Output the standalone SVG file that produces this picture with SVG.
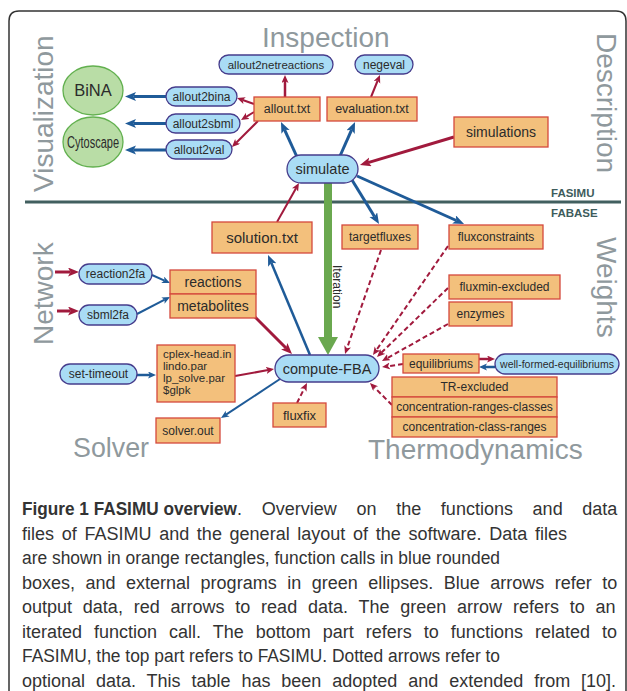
<svg xmlns="http://www.w3.org/2000/svg" width="627" height="691" viewBox="0 0 627 691">
<style>
.fn{fill:#a9dcf5;stroke:#463c8c;stroke-width:1.3}
.df{fill:#f3c07c;stroke:#d4493c;stroke-width:1.3}
.ext{fill:#b9dda6;stroke:#62b04f;stroke-width:1.3}
.t{font-family:"Liberation Sans",Arial,sans-serif;fill:#2b2b2b;text-anchor:middle}
.sec{font-family:"Liberation Sans",Arial,sans-serif;font-size:28px;fill:#8f999d}
.lay{font-family:"Liberation Sans",Arial,sans-serif;font-size:11.5px;font-weight:bold;fill:#3e5c5c}
.cap{font-family:"Liberation Sans",Arial,sans-serif;font-size:18px;fill:#333}
.bl{stroke:#1f5b98;fill:none}
.rd{stroke:#a11a3d;fill:none}
.big{stroke-width:3}
.sm{stroke-width:2}
.md{stroke-width:2.5}
.dash{stroke-dasharray:5 3}
</style>
<defs>
<marker id="hb" markerUnits="userSpaceOnUse" markerWidth="12" markerHeight="10" refX="2.5" refY="4.5" orient="auto"><path d="M0,0 L11,4.5 L0,9 L2.5,4.5 z" fill="#1f5b98"/></marker>
<marker id="hs" markerUnits="userSpaceOnUse" markerWidth="9" markerHeight="8" refX="2" refY="3.5" orient="auto"><path d="M0,0 L8,3.5 L0,7 L2,3.5 z" fill="#1f5b98"/></marker>
<marker id="rb" markerUnits="userSpaceOnUse" markerWidth="12" markerHeight="10" refX="2.5" refY="4.5" orient="auto"><path d="M0,0 L11,4.5 L0,9 L2.5,4.5 z" fill="#a11a3d"/></marker>
<marker id="rs" markerUnits="userSpaceOnUse" markerWidth="9" markerHeight="8" refX="2" refY="3.5" orient="auto"><path d="M0,0 L8,3.5 L0,7 L2,3.5 z" fill="#a11a3d"/></marker>
</defs>
<rect width="627" height="691" fill="#fff"/>
<path d="M9,700 L9,21 Q9,11 19,11 L616,11 Q626,11 626,21 L626,700" fill="none" stroke="#333" stroke-width="1.5"/>

<g id="labels">
<text class="sec" transform="translate(53,192) rotate(-90)">Visualization</text>
<text class="sec" x="262" y="47">Inspection</text>
<text class="sec" transform="translate(597,33) rotate(90)">Description</text>
<text class="sec" transform="translate(53,345) rotate(-90)">Network</text>
<text class="sec" transform="translate(597,237) rotate(90)">Weights</text>
<text class="sec" x="73" y="457" textLength="76" lengthAdjust="spacingAndGlyphs">Solver</text>
<text class="sec" x="368" y="459">Thermodynamics</text>
<text class="lay" x="551" y="197">FASIMU</text>
<text class="lay" x="551" y="217">FABASE</text>
</g>

<path id="separator" d="M25,202 L621,202" stroke="#415f5f" stroke-width="3"/>

<g id="connectors">
<path class="bl big" marker-end="url(#hb)" d="M166,96.5 L133.5,96.5"/>
<path class="bl big" marker-end="url(#hb)" d="M166,123.5 L133.5,123.5"/>
<path class="bl big" marker-end="url(#hb)" d="M166,150 L133.5,150"/>
<path class="bl big" marker-end="url(#hb)" d="M297,157 L284.5,129.7"/>
<path class="bl big" marker-end="url(#hb)" d="M340,156 L351.6,129.8"/>
<path class="bl big" marker-end="url(#hb)" d="M352,180 L374.6,216.8"/>
<path class="bl big" marker-end="url(#hb)" d="M357,176 L456.3,220.5"/>
<path class="bl md" marker-end="url(#hb)" d="M310,355 L271.3,262.8"/>
<path class="bl sm" marker-end="url(#hs)" d="M152,275 L164.5,280.6"/>
<path class="bl sm" marker-end="url(#hs)" d="M137,314 L164.7,299.7"/>
<path class="bl md" marker-end="url(#hs)" d="M137,375 L150,375"/>
<path class="bl sm" marker-end="url(#hs)" d="M280,379 L226,414.7"/>
<path class="bl md" marker-end="url(#hs)" d="M495,367 L485,367"/>
<path class="rd big" marker-end="url(#rb)" d="M454,137 L368.1,162.6"/>
<path class="rd big" marker-end="url(#rb)" d="M255,317 L286,348"/>
<path class="rd big" marker-end="url(#rb)" d="M55,272 L70.5,272"/>
<path class="rd big" marker-end="url(#rb)" d="M57,311 L70.5,311"/>
<path class="rd sm" marker-end="url(#rs)" d="M254,104 L242.7,100"/>
<path class="rd sm" marker-end="url(#rs)" d="M254,112 L246.1,116.9"/>
<path class="rd sm" marker-end="url(#rs)" d="M258,121 L236.2,142.8"/>
<path class="rd md" marker-end="url(#rs)" d="M285,97 L285,81"/>
<path class="rd sm" marker-end="url(#rs)" d="M371,97 L377.7,80.5"/>
<path class="rd sm" marker-end="url(#rs)" d="M277,222 L296,188.2"/>
<path class="rd sm" marker-end="url(#rs)" d="M235,376 L268.1,370.1"/>
<path class="rd md" marker-end="url(#rs)" d="M479,359 L489,359"/>
<path class="rd sm dash" marker-end="url(#rs)" d="M381,250 L347,348.3"/>
<path class="rd sm dash" marker-end="url(#rs)" d="M448,246 L376.4,350.1"/>
<path class="rd sm dash" marker-end="url(#rs)" d="M448,288 L381.3,352.8"/>
<path class="rd sm dash" marker-end="url(#rs)" d="M448,324 L387.2,358.1"/>
<path class="rd sm dash" marker-end="url(#rs)" d="M403,364 L388,366.2"/>
<path class="rd sm dash" marker-end="url(#rs)" d="M392,405 L374.2,387.2"/>
<path class="rd sm dash" marker-end="url(#rs)" d="M297,403 L304.3,388.4"/>
<g id="iteration">
<rect x="324" y="183" width="8" height="155" fill="#6aa84f"/>
<polygon points="318,337 338,337 328,355" fill="#6aa84f"/>
<text class="t" style="text-anchor:start;font-size:12px" transform="translate(333,265) rotate(90)">Iteration</text>
</g>
</g>

<g id="BiNA"><ellipse class="ext" cx="93" cy="90.5" rx="30" ry="24.5"/><text class="t" x="93" y="96.3" font-size="16.5">BiNA</text></g>
<g id="Cytoscape"><ellipse class="ext" cx="93" cy="142" rx="30" ry="25"/><text class="t" x="93" y="147.5" font-size="16" textLength="52" lengthAdjust="spacingAndGlyphs">Cytoscape</text></g>

<g id="allout2netreactions"><rect class="fn" x="219" y="55" width="114" height="19" rx="9.5"/><text class="t" x="276" y="68.5" font-size="11.5">allout2netreactions</text></g>
<g id="negeval"><rect class="fn" x="355" y="55" width="58" height="19" rx="9.5"/><text class="t" x="384" y="68.7" font-size="12">negeval</text></g>
<g id="allout2bina"><rect class="fn" x="166" y="87" width="71" height="19" rx="9.5"/><text class="t" x="201.5" y="100.7" font-size="12">allout2bina</text></g>
<g id="allout2sbml"><rect class="fn" x="166" y="114" width="74" height="19" rx="9.5"/><text class="t" x="203" y="127.7" font-size="12">allout2sbml</text></g>
<g id="allout2val"><rect class="fn" x="166" y="140" width="66" height="19" rx="9.5"/><text class="t" x="199" y="153.7" font-size="12">allout2val</text></g>
<g id="allout.txt"><rect class="df" x="254" y="97" width="66" height="24"/><text class="t" x="287" y="113.4" font-size="12.5">allout.txt</text></g>
<g id="evaluation.txt"><rect class="df" x="327" y="97" width="90" height="24"/><text class="t" x="372" y="113.4" font-size="12.5">evaluation.txt</text></g>
<g id="simulations"><rect class="df" x="454" y="117" width="94" height="30"/><text class="t" x="501" y="137" font-size="14">simulations</text></g>
<g id="simulate"><rect class="fn" x="287" y="155" width="71" height="28" rx="14"/><text class="t" x="322.5" y="174" font-size="14.5">simulate</text></g>

<g id="solution.txt"><rect class="df" x="212" y="222" width="100" height="31"/><text class="t" x="262" y="242.8" font-size="15">solution.txt</text></g>
<g id="targetfluxes"><rect class="df" x="342" y="225" width="76" height="24"/><text class="t" x="380" y="241.3" font-size="12">targetfluxes</text></g>
<g id="fluxconstraints"><rect class="df" x="449" y="225" width="94" height="24"/><text class="t" x="496" y="241.3" font-size="12">fluxconstraints</text></g>
<g id="fluxmin-excluded"><rect class="df" x="449" y="275" width="111" height="24"/><text class="t" x="504.5" y="291.3" font-size="12">fluxmin-excluded</text></g>
<g id="enzymes"><rect class="df" x="449" y="302" width="63" height="24"/><text class="t" x="480.5" y="318.3" font-size="12">enzymes</text></g>
<g id="reactions"><rect class="df" x="170" y="270" width="86" height="24"/><text class="t" x="213" y="287" font-size="14">reactions</text></g>
<g id="metabolites"><rect class="df" x="170" y="294" width="86" height="24"/><text class="t" x="213" y="311" font-size="14">metabolites</text></g>
<g id="reaction2fa"><rect class="fn" x="79" y="264" width="73" height="20" rx="10"/><text class="t" x="115.5" y="278.2" font-size="12">reaction2fa</text></g>
<g id="sbml2fa"><rect class="fn" x="79" y="305" width="58" height="20" rx="10"/><text class="t" x="108" y="319.2" font-size="12">sbml2fa</text></g>
<g id="set-timeout"><rect class="fn" x="60" y="364" width="77" height="20" rx="10"/><text class="t" x="98.5" y="378.2" font-size="12">set-timeout</text></g>
<g id="solver-params"><rect class="df" x="157" y="345" width="78" height="57"/>
<text class="t" style="text-anchor:start" x="163" font-size="11.5"><tspan x="163" y="357.5">cplex-head.in</tspan><tspan x="163" y="369.5">lindo.par</tspan><tspan x="163" y="381.5">lp_solve.par</tspan><tspan x="163" y="393.5">$glpk</tspan></text></g>
<g id="solver.out"><rect class="df" x="156" y="418" width="64" height="25"/><text class="t" x="188" y="434.7" font-size="12">solver.out</text></g>
<g id="compute-FBA"><rect class="fn" x="275" y="355" width="104" height="27" rx="13.5"/><text class="t" x="327" y="373.5" font-size="14.5">compute-FBA</text></g>
<g id="fluxfix"><rect class="df" x="273" y="403" width="53" height="24"/><text class="t" x="299.5" y="419.5" font-size="13">fluxfix</text></g>
<g id="equilibriums"><rect class="df" x="403" y="354" width="76" height="19"/><text class="t" x="441" y="367.7" font-size="12">equilibriums</text></g>
<g id="well-formed-equilibriums"><rect class="fn" x="495" y="354" width="124" height="20" rx="10"/><text class="t" x="557" y="367.7" font-size="10.5">well-formed-equilibriums</text></g>
<g id="TR-excluded"><rect class="df" x="392" y="377" width="165" height="20"/><text class="t" x="474.5" y="391.2" font-size="12">TR-excluded</text></g>
<g id="concentration-ranges-classes"><rect class="df" x="392" y="397" width="165" height="20"/><text class="t" x="474.5" y="411.2" font-size="12">concentration-ranges-classes</text></g>
<g id="concentration-class-ranges"><rect class="df" x="392" y="417" width="165" height="20"/><text class="t" x="474.5" y="431.2" font-size="12">concentration-class-ranges</text></g>

<g id="caption">
<text class="cap" x="22" y="515" font-weight="bold" textLength="215" lengthAdjust="spacingAndGlyphs">Figure 1 FASIMU overview</text>
<text class="cap" x="237" y="515" word-spacing="14.7">. Overview on the functions and data</text>
<text class="cap" x="22" y="539.5" word-spacing="2.7">files of FASIMU and the general layout of the software. Data files</text>
<text class="cap" x="22" y="564" textLength="478" lengthAdjust="spacingAndGlyphs">are shown in orange rectangles, function calls in blue rounded</text>
<text class="cap" x="22" y="588.5" word-spacing="5.5">boxes, and external programs in green ellipses. Blue arrows refer to</text>
<text class="cap" x="22" y="613" word-spacing="5.8">output data, red arrows to read data. The green arrow refers to an</text>
<text class="cap" x="22" y="637.5" word-spacing="7">iterated function call. The bottom part refers to functions related to</text>
<text class="cap" x="22" y="662" textLength="478" lengthAdjust="spacingAndGlyphs">FASIMU, the top part refers to FASIMU. Dotted arrows refer to</text>
<text class="cap" x="22" y="686.5" word-spacing="5.9">optional data. This table has been adopted and extended from [10].</text>
</g>
</svg>
